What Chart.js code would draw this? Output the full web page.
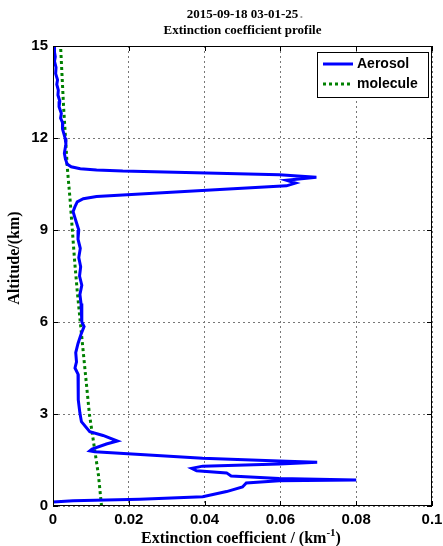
<!DOCTYPE html>
<html>
<head>
<meta charset="utf-8">
<script src="https://cdn.jsdelivr.net/npm/chart.js@4"></script>
<style>
  html, body { margin: 0; padding: 0; background: #fff; }
  #wrap { width: 443px; height: 546px; }
</style>
</head>
<body>
<div id="wrap"><canvas id="grafico" width="443" height="546"></canvas></div>
<script>
// datos
const titleLines = ['2015-09-18 03-01-25', 'Extinction coefficient profile'];
const xTicks = [0, 0.02, 0.04, 0.06, 0.08, 0.1];
const yTicks = [0, 3, 6, 9, 12, 15];

// Aerosol: extincion (km^-1) y altitud (km), de arriba hacia abajo
const aerosolExt = [0.0003, 0.0004, 0.0006, 0.0004, 0.0008, 0.0007, 0.0012, 0.0010, 0.0014, 0.0013,
  0.0018, 0.0016, 0.0022, 0.0020, 0.0026, 0.0025, 0.0032, 0.0034, 0.0030, 0.0033,
  0.0034, 0.0037, 0.0048, 0.0072, 0.0115, 0.0184, 0.0405, 0.0597, 0.0695, 0.0616,
  0.0640, 0.0616, 0.0405, 0.0184, 0.0115, 0.0080, 0.0064, 0.0058, 0.0053, 0.0058,
  0.0068, 0.0066, 0.0072, 0.0068, 0.0073, 0.0070, 0.0076, 0.0071, 0.0074, 0.0076,
  0.0076, 0.0082, 0.0074, 0.0066, 0.0060, 0.0062, 0.0058, 0.0066, 0.0068, 0.0066,
  0.0066, 0.0071, 0.0075, 0.0097, 0.0132, 0.0170, 0.0141, 0.0103, 0.0097, 0.0110,
  0.0395, 0.0597, 0.0697, 0.0597, 0.0395, 0.0366, 0.0379, 0.0458, 0.0470, 0.0597,
  0.0800, 0.0597, 0.0510, 0.0500, 0.0458, 0.0395, 0.0229, 0.0053, 0.0000];
const aerosolAlt = [15.0, 14.8, 14.65, 14.5, 14.3, 14.1, 13.9, 13.75, 13.56, 13.4,
  13.2, 13.02, 12.8, 12.65, 12.48, 12.3, 12.0, 11.8, 11.5, 11.3,
  11.28, 11.15, 11.06, 11.0, 10.96, 10.92, 10.86, 10.8, 10.72, 10.62,
  10.53, 10.44, 10.3, 10.14, 10.09, 10.02, 9.92, 9.76, 9.6, 9.39,
  9.0, 8.7, 8.4, 8.1, 7.8, 7.5, 7.2, 6.9, 6.6, 6.3,
  6.0, 5.85, 5.6, 5.3, 5.0, 4.7, 4.5, 4.3, 4.0, 3.7,
  3.46, 3.03, 2.75, 2.42, 2.3, 2.12, 2.02, 1.86, 1.8, 1.77,
  1.56, 1.47, 1.43, 1.37, 1.3, 1.23, 1.15, 1.08, 0.98, 0.9,
  0.85, 0.82, 0.75, 0.62, 0.47, 0.3, 0.22, 0.17, 0.13];

// Molecula
const moleculeExt = [0.0128, 0.0120, 0.0108, 0.0096, 0.0088, 0.0080, 0.0072, 0.0064,
  0.0057, 0.0051, 0.0045, 0.0038, 0.0033, 0.0028, 0.0024, 0.0020];
const moleculeAlt = [0, 1, 2, 3, 4, 5, 6, 7, 8, 9, 10, 11, 12, 13, 14, 15];

const aerosolData = aerosolExt.map((v, i) => ({ x: v, y: aerosolAlt[i] }));
const moleculeData = moleculeExt.map((v, i) => ({ x: v, y: moleculeAlt[i] }));

const serif = '"Liberation Serif", "Times New Roman", serif';

// plugin para marco, ticks internos, titulos y leyenda estilo matlab
const matlabStyle = {
  id: 'matlabStyle',
  afterDraw(chart) {
    const ctx = chart.ctx;
    const a = chart.chartArea;
    const xs = chart.scales.x, ys = chart.scales.y;
    ctx.save();
    // marco
    ctx.strokeStyle = '#000';
    ctx.lineWidth = 1;
    ctx.setLineDash([]);
    ctx.strokeRect(a.left + 0.5, a.top + 0.5, a.right - a.left - 1, a.bottom - a.top - 1);
    // ticks hacia adentro
    ctx.beginPath();
    xTicks.forEach(t => {
      const px = Math.round(xs.getPixelForValue(t)) + 0.5;
      ctx.moveTo(px, a.bottom); ctx.lineTo(px, a.bottom - 5);
      ctx.moveTo(px, a.top); ctx.lineTo(px, a.top + 5);
    });
    yTicks.forEach(t => {
      const py = Math.round(ys.getPixelForValue(t)) + 0.5;
      ctx.moveTo(a.left, py); ctx.lineTo(a.left + 5, py);
      ctx.moveTo(a.right, py); ctx.lineTo(a.right - 5, py);
    });
    ctx.stroke();

    // titulo
    const cx = (a.left + a.right) / 2;
    ctx.fillStyle = '#000';
    ctx.textAlign = 'center';
    ctx.textBaseline = 'middle';
    ctx.font = 'bold 13px ' + serif;
    ctx.fillText(titleLines[0], cx, 15);
    const w0 = ctx.measureText(titleLines[0]).width;
    ctx.fillStyle = '#999';
    ctx.fillText('.', cx + w0 / 2 + 3, 15);
    ctx.fillStyle = '#000';
    ctx.fillText(titleLines[1], cx, 31);

    // titulo eje x
    ctx.font = 'bold 16px ' + serif;
    const base = 'Extinction coefficient / (km';
    const wb = ctx.measureText(base).width;
    ctx.font = 'bold 11px ' + serif;
    const ws = ctx.measureText('-1').width;
    ctx.font = 'bold 16px ' + serif;
    const wc = ctx.measureText(')').width;
    const start = 241 - (wb + ws + wc) / 2;
    ctx.textAlign = 'left';
    ctx.fillText(base, start, 539);
    ctx.font = 'bold 11px ' + serif;
    ctx.fillText('-1', start + wb, 533);
    ctx.font = 'bold 16px ' + serif;
    ctx.fillText(')', start + wb + ws, 539);

    // titulo eje y
    ctx.save();
    ctx.translate(15, 258);
    ctx.rotate(-Math.PI / 2);
    ctx.textAlign = 'center';
    ctx.fillText('Altitude/(km)', 0, 0);
    ctx.restore();

    // leyenda
    const lx = 317, ly = 52, lw = 111, lh = 45;
    ctx.fillStyle = '#fff';
    ctx.fillRect(lx, ly, lw, lh);
    ctx.strokeStyle = '#000';
    ctx.lineWidth = 1;
    ctx.strokeRect(lx + 0.5, ly + 0.5, lw, lh);
    ctx.lineWidth = 3;
    ctx.strokeStyle = '#0000ff';
    ctx.beginPath(); ctx.moveTo(323, 64); ctx.lineTo(353, 64); ctx.stroke();
    ctx.strokeStyle = '#008000';
    ctx.setLineDash([3, 3]);
    ctx.beginPath(); ctx.moveTo(323, 84); ctx.lineTo(353, 84); ctx.stroke();
    ctx.setLineDash([]);
    ctx.fillStyle = '#000';
    ctx.font = 'bold 14px "Liberation Sans", Arial, sans-serif';
    ctx.textAlign = 'left';
    ctx.fillText('Aerosol', 357, 64);
    ctx.fillText('molecule', 357, 84);
    ctx.restore();
  }
};

const ctx = document.getElementById('grafico').getContext('2d');
new Chart(ctx, {
  type: 'scatter',
  data: {
    datasets: [{
      label: 'Aerosol',
      data: aerosolData,
      showLine: true,
      borderColor: '#0000ff',
      borderWidth: 3,
      pointRadius: 0,
      tension: 0
    }, {
      label: 'molecule',
      data: moleculeData,
      showLine: true,
      borderColor: '#008000',
      borderWidth: 3,
      borderDash: [3, 3],
      pointRadius: 0,
      tension: 0
    }]
  },
  options: {
    responsive: false,
    animation: false,
    layout: { padding: { top: 46, right: 11, left: 0, bottom: 0 } },
    plugins: { legend: { display: false }, tooltip: { enabled: false } },
    scales: {
      x: {
        type: 'linear',
        min: 0, max: 0.1,
        afterFit(scale) { scale.height = 40; scale.paddingLeft = 0; scale.paddingRight = 0; },
        afterBuildTicks(scale) { scale.ticks = xTicks.map(v => ({ value: v })); },
        grid: { color: '#777', drawTicks: false, lineWidth: 1 },
        border: { display: false, dash: [2, 3] },
        ticks: {
          color: '#000',
          padding: 5,
          maxRotation: 0,
          font: { family: '"Liberation Sans", Arial, sans-serif', size: 15, weight: 'bold' },
          callback: v => String(v)
        }
      },
      y: {
        type: 'linear',
        min: 0, max: 15,
        afterFit(scale) { scale.width = 53; scale.paddingTop = 0; scale.paddingBottom = 0; },
        afterBuildTicks(scale) { scale.ticks = yTicks.map(v => ({ value: v })); },
        grid: { color: '#777', drawTicks: false, lineWidth: 1 },
        border: { display: false, dash: [2, 3] },
        ticks: {
          color: '#000',
          padding: 5,
          font: { family: '"Liberation Sans", Arial, sans-serif', size: 15, weight: 'bold' },
          callback: v => String(v)
        }
      }
    }
  },
  plugins: [matlabStyle]
});
</script>
</body>
</html>
